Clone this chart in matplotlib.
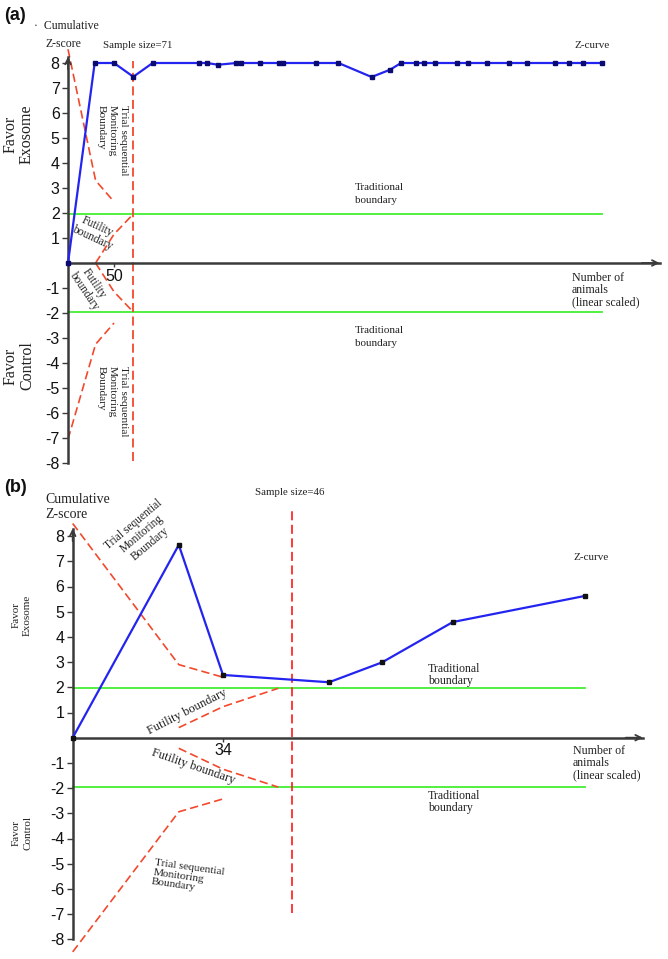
import matplotlib
matplotlib.use('Agg')
import matplotlib.pyplot as plt

plt.rcParams['axes.unicode_minus'] = False

# ---------------- data: panel (a) ----------------
a_z_x = [0, 29, 50, 71, 92, 142, 151, 163, 183, 188, 209, 229, 234, 270, 294,
         330, 350, 362, 378, 387, 399, 423, 435, 455, 479, 499, 529, 545, 560, 580]
a_z_y = [0, 8, 8, 7.45, 8, 8, 8, 7.93, 8, 8, 8, 8, 8, 8, 8,
         7.44, 7.73, 8, 8, 8, 8, 8, 8, 8, 8, 8, 8, 8, 8, 8]
a_tsm_x = [0, 30, 50]
a_tsm_upper = [8.55, 3.3, 2.45]
a_tsm_lower = [-7.05, -3.25, -2.4]
a_fut_x = [30, 50, 71]
a_fut_upper = [0, 1.15, 1.96]
a_fut_lower = [0, -1.15, -1.96]
a_trad_x = [0, 580]
a_sample_x = 71
a_sample_span = [-7.9, 8.1]
a_xticks = [50]
a_xmax = 643

# ---------------- data: panel (b) ----------------
b_z_x = [0, 24, 34, 58, 70, 86, 116]
b_z_y = [0, 7.65, 2.49, 2.2, 2.99, 4.59, 5.63]
b_tsm_x = [0, 24, 34]
b_tsm_upper = [8.5, 2.9, 2.4]
b_tsm_lower = [-8.5, -2.94, -2.43]
b_fut_x = [24, 34, 46.5]
b_fut_upper = [0.4, 1.23, 1.96]
b_fut_lower = [-0.42, -1.25, -1.96]
b_trad_x = [0, 116]
b_sample_x = 49.6
b_sample_span = [-6.94, 9.0]
b_xticks = [34]
b_xmax = 129

trad = 1.96
yticks = [-8, -7, -6, -5, -4, -3, -2, -1, 1, 2, 3, 4, 5, 6, 7, 8]

W, H = 668, 959
fig = plt.figure(figsize=(6.68, 9.59), dpi=100)

SERIF = ['Liberation Serif', 'DejaVu Serif']
SANS = ['Liberation Sans', 'DejaVu Sans']
BLUE = '#2424f0'
GREEN = '#44ee33'
RED = '#f2492c'
VRED = '#ff2a2a'
AXC = '#3a3a3a'


def make_axes(py0, py1, x0px, xscale, y0px, yscale):
    ax = fig.add_axes([0, 1 - py1 / H, 1, (py1 - py0) / H])
    ax.set_xlim((0 - x0px) / xscale, (W - x0px) / xscale)
    ax.set_ylim((y0px - py1) / yscale, (y0px - py0) / yscale)
    ax.patch.set_visible(False)
    for s in ['top', 'right']:
        ax.spines[s].set_visible(False)
    ax.spines['left'].set_position(('data', 0))
    ax.spines['bottom'].set_position(('data', 0))
    for s in ['left', 'bottom']:
        ax.spines[s].set_color(AXC)
        ax.spines[s].set_linewidth(1.8)
    ax.set_yticks(yticks)
    ax.set_yticklabels([str(v) for v in yticks], fontfamily=SANS, fontsize=11.5)
    ax.tick_params(axis='y', direction='out', length=4, width=1, color=AXC,
                   pad=2, labelcolor='#111111')
    ax.tick_params(axis='x', direction='out', length=3, width=1, color=AXC,
                   pad=1, labelcolor='#111111')
    return ax


def T(px, py, s, **kw):
    kw.setdefault('family', SERIF)
    kw.setdefault('color', '#222222')
    fig.text(px / W, 1 - py / H, s, **kw)


def draw_panel(ax, zx, zy, tx, tu, tl, fx, fu, fl, trx, sx, sspan, xt, xmax,
               ytop, mcolor, vcolor, dash):
    ax.spines['left'].set_bounds(-8, ytop)
    ax.spines['bottom'].set_bounds(0, xmax)
    ax.annotate('', xy=(xmax, 0), xytext=(xmax * 0.97, 0),
                arrowprops=dict(arrowstyle='->', color=AXC, lw=1.3,
                                shrinkA=0, shrinkB=0, mutation_scale=10))
    ax.annotate('', xy=(0, ytop), xytext=(0, ytop - 0.5),
                arrowprops=dict(arrowstyle='->', color=AXC, lw=1.3,
                                shrinkA=0, shrinkB=0, mutation_scale=10))
    ax.set_xticks(xt)
    ax.set_xticklabels([str(v) for v in xt], fontfamily=SANS, fontsize=11.5)
    # traditional boundaries
    ax.plot(trx, [trad, trad], color=GREEN, lw=1.3)
    ax.plot(trx, [-trad, -trad], color=GREEN, lw=1.3)
    # monitoring + futility boundaries
    for yy in (tu, tl):
        ax.plot(tx, yy, color=RED, lw=1.2, dashes=dash)
    for yy in (fu, fl):
        ax.plot(fx, yy, color=RED, lw=1.2, dashes=dash)
    # sample size line
    ax.plot([sx, sx], sspan, color=vcolor, lw=1.3, dashes=dash)
    # z-curve
    ax.plot(zx, zy, color=BLUE, lw=1.6, marker='s', markersize=2.6,
            markerfacecolor=mcolor, markeredgecolor=mcolor, zorder=5)


# ---------------- panel (a) ----------------
axa = make_axes(20, 476, 68, 0.92, 263, 25)
draw_panel(axa, a_z_x, a_z_y, a_tsm_x, a_tsm_upper, a_tsm_lower, a_fut_x,
           a_fut_upper, a_fut_lower, a_trad_x, a_sample_x, a_sample_span,
           a_xticks, a_xmax, 8.25, '#0a0a70', RED, (5, 2.5))

T(4, 16, '(a)', family=SANS, fontsize=13, fontweight='bold', va='center',
  color='#111111')
T(34, 26, '·  Cumulative', fontsize=8.5, va='center')
T(45, 44, 'Z-score', fontsize=8.5, va='center')
T(103, 45, 'Sample size=71', fontsize=7.8, va='center')
T(574, 45, 'Z-curve', fontsize=8, va='center')
T(19, 134, 'Favor\nExosome', fontsize=11.5, rotation=90, ha='center',
  va='center', linespacing=1.0)
T(19, 366, 'Favor\nControl', fontsize=11.5, rotation=90, ha='center',
  va='center', linespacing=1.0)
T(112, 140, 'Trial sequential\nMonitoring\nBoundary', fontsize=8.2,
  rotation=-90, ha='center', va='center', multialignment='left',
  rotation_mode='anchor', linespacing=1.3)
T(112, 401, 'Trial sequential\nMonitoring\nBoundary', fontsize=8.2,
  rotation=-90, ha='center', va='center', multialignment='left',
  rotation_mode='anchor', linespacing=1.3)
T(95, 232, 'Futility\nboundary', fontsize=8.3, rotation=-25, ha='center',
  va='center', rotation_mode='anchor', linespacing=1.1)
T(89, 287, 'Futility\nboundary', fontsize=8.3, rotation=-56, ha='center',
  va='center', rotation_mode='anchor', linespacing=1.1)
T(355, 194, 'Traditional\nboundary', fontsize=8, va='center',
  linespacing=1.55)
T(355, 337, 'Traditional\nboundary', fontsize=8, va='center',
  linespacing=1.55)
T(572, 290, 'Number of\nanimals\n(linear scaled)', fontsize=8.6,
  va='center', linespacing=1.0)

# ---------------- panel (b) ----------------
axb = make_axes(480, 959, 72.7, 4.42, 737.7, 25.2)
draw_panel(axb, b_z_x, b_z_y, b_tsm_x, b_tsm_upper, b_tsm_lower, b_fut_x,
           b_fut_upper, b_fut_lower, b_trad_x, b_sample_x, b_sample_span,
           b_xticks, b_xmax, 8.3, '#111111', VRED, (5, 2.5))

T(4, 487, '(b)', family=SANS, fontsize=13, fontweight='bold', va='center',
  color='#111111')
T(45, 499, 'Cumulative', fontsize=10, va='center')
T(45, 515, 'Z-score', fontsize=10, va='center')
T(255, 492, 'Sample size=46', fontsize=7.8, va='center')
T(573, 558, 'Z-curve', fontsize=8, va='center')
T(22, 615, 'Favor\nExosome', fontsize=8, rotation=90, ha='center',
  va='center', linespacing=1.3)
T(22, 833, 'Favor\nControl', fontsize=8, rotation=90, ha='center',
  va='center', linespacing=1.3)
T(142, 534, 'Trial sequential\nMonitoring\nBoundary', fontsize=8.3,
  rotation=40, ha='center', va='center', multialignment='center',
  rotation_mode='anchor', linespacing=1.1)
T(187, 712, 'Futility boundary', fontsize=9, rotation=27, ha='center',
  va='center', rotation_mode='anchor')
T(193, 767, 'Futility boundary', fontsize=9, rotation=-19, ha='center',
  va='center', rotation_mode='anchor')
T(188, 877, 'Trial sequential\nMonitoring\nBoundary', fontsize=8.2,
  rotation=-8, ha='center', va='center', multialignment='left',
  rotation_mode='anchor', linespacing=1.05)
T(428, 675, 'Traditional\nboundary', fontsize=8.6, va='center',
  linespacing=0.95)
T(428, 802, 'Traditional\nboundary', fontsize=8.6, va='center',
  linespacing=0.95)
T(573, 763, 'Number of\nanimals\n(linear scaled)', fontsize=8.6,
  va='center', linespacing=1.0)

fig.savefig('out.png', dpi=100)
